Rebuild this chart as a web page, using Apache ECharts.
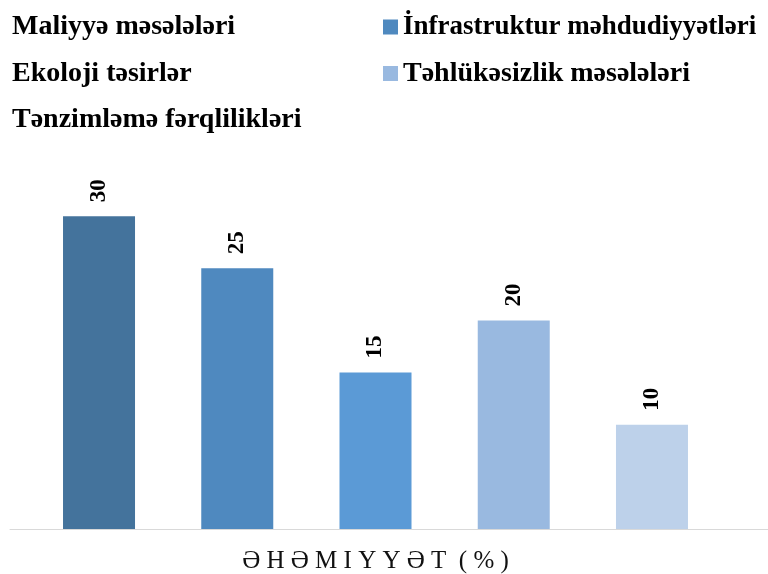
<!DOCTYPE html>
<html>
<head>
<meta charset="utf-8">
<script src="https://cdn.jsdelivr.net/npm/echarts@6/dist/echarts.min.js"></script>
<style>html,body{margin:0;padding:0;background:#fff}#c{width:768px;height:574px}</style>
</head>
<body>
<div id="c"></div>
<script>
const categories = ['ƏHƏMIYYƏT (%)'];
const seriesNames = ['Maliyyə məsələləri', 'İnfrastruktur məhdudiyyətləri', 'Ekoloji təsirlər', 'Təhlükəsizlik məsələləri', 'Tənzimləmə fərqlilikləri'];
const seriesValues = [30, 25, 15, 20, 10];
const seriesColors = ['#44739c', '#4f89bf', '#5b9ad6', '#99b9e0', '#bdd1ea'];
const leftLegendNames = [seriesNames[0], seriesNames[2], seriesNames[4]];
const rightLegendNames = [seriesNames[1], seriesNames[3]];

const serif = '"Liberation Serif", "Times New Roman", serif';
const chart = echarts.init(document.getElementById('c'), null, {renderer: 'canvas'});

const legendText = {fontFamily: serif, fontWeight: 'bold', fontSize: 28, color: '#000', lineHeight: 30};

chart.setOption({
  animation: false,
  backgroundColor: '#fff',
  legend: [
    {
      orient: 'vertical', left: -18, top: 12, padding: 0,
      itemWidth: 15, itemHeight: 15, itemGap: 16.5, icon: 'rect',
      data: leftLegendNames,
      textStyle: Object.assign({}, legendText, {padding: [0, 0, 0, 10]})
    },
    {
      orient: 'vertical', left: 383, top: 12, padding: 0,
      itemWidth: 15, itemHeight: 15, itemGap: 16.5, icon: 'rect',
      data: rightLegendNames.map((n, i) => i === 0 ? {name: n, textStyle: {fontSize: 27}} : {name: n}),
      textStyle: legendText
    }
  ],
  grid: [
    {left: 10, right: 27, top: 164, bottom: 45, containLabel: false},
    {left: 10, right: 0, top: 164, bottom: 45, containLabel: false}
  ],
  xAxis: [
    {
      type: 'category',
      gridIndex: 0,
      data: categories,
      axisLine: {show: false},
      axisTick: {show: false},
      axisLabel: {
        fontFamily: serif, fontSize: 25, color: '#111', margin: 20,
        formatter: v => Array.from(v).join('\u2005').replace(' \u2005', ' ')
      }
    },
    {
      type: 'category',
      gridIndex: 1,
      data: categories,
      axisLine: {show: true, lineStyle: {color: '#d9d9d9', width: 1}},
      axisTick: {show: false},
      axisLabel: {show: false}
    }
  ],
  yAxis: [
    {type: 'value', gridIndex: 0, min: 0, max: 35, show: false, splitLine: {show: false}},
    {type: 'value', gridIndex: 1, min: 0, max: 35, show: false, splitLine: {show: false}}
  ],
  series: seriesNames.map((name, i) => ({
    type: 'bar',
    name: name,
    xAxisIndex: 0,
    yAxisIndex: 0,
    data: [seriesValues[i]],
    barWidth: 72,
    barGap: '92%',
    itemStyle: {color: seriesColors[i]},
    label: {
      show: true, position: 'top', rotate: 90, distance: 14,
      align: 'left', verticalAlign: 'middle',
      fontFamily: serif, fontWeight: 'bold', fontSize: 23, color: '#000'
    }
  }))
});
</script>
</body>
</html>
